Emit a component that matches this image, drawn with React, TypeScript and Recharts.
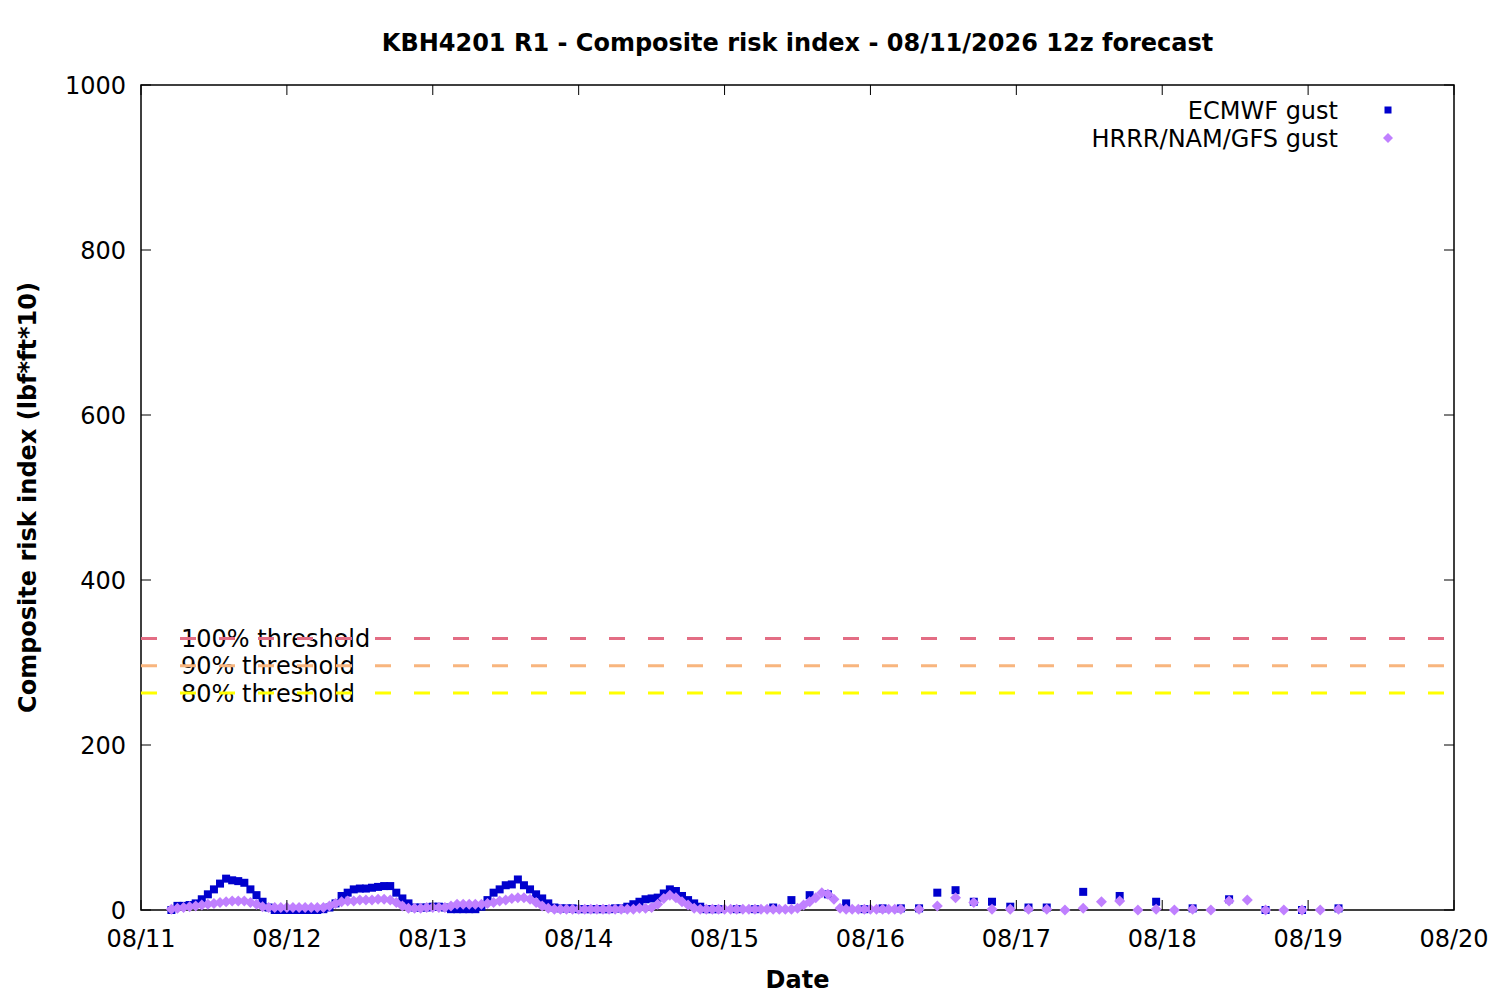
import React from 'react'
import { ScatterChart, Scatter, XAxis, YAxis, ReferenceLine, ReferenceArea } from 'recharts'

// hours counted from 08/11 00:00
const dayLabels = ['08/11', '08/12', '08/13', '08/14', '08/15', '08/16', '08/17', '08/18', '08/19', '08/20']
const dayTicks = [0, 24, 48, 72, 96, 120, 144, 168, 192, 216]
const yTicks = [0, 200, 400, 600, 800, 1000]

// ECMWF gust: hourly 08/11 05 -> 08/14 23, 3-hourly 08/15 02 -> 08/17 05, 6-hourly 08/17 11 -> 08/19 05
const ecmwfHourlyStart = 5
const ecmwfHourly = [
  0, 5, 5, 6, 8, 13, 19, 25, 32, 38, 36, 35, 33, 25, 18, 10, 3, 0, 0,
  0, 0, 0, 0, 0, 0, 1, 3, 8, 17, 21, 25, 26, 26, 27, 28, 29, 29, 21, 14, 8, 3, 3, 3,
  4, 4, 3, 1, 1, 1, 1, 1, 4, 12, 21, 25, 30, 31, 37, 30, 25, 19, 14, 8, 3, 2, 2, 2,
  1, 1, 1, 1, 1, 1, 2, 2, 4, 7, 10, 13, 14, 15, 20, 25, 23, 17, 12, 8, 4, 1, 1, 1,
]
const ecmwf3hStart = 98
const ecmwf3h = [1, 1, 3, 12, 18, 19, 8, 1, 2, 2, 2, 21, 24, 10, 10, 4, 3, 3]
const ecmwf6hStart = 155
const ecmwf6h = [22, 17, 10, 2, 13, 0, 0, 2]

// HRRR/NAM/GFS gust: hourly 08/11 05 -> 08/16 05, 3-hourly 08/16 08 -> 08/19 05
const hrrrHourlyStart = 5
const hrrrHourly = [
  1, 2, 3, 4, 5, 6, 7, 8, 9, 10, 11, 11, 11, 9, 7, 4, 3, 3, 3,
  3, 3, 3, 3, 3, 3, 3, 5, 8, 10, 11, 11, 12, 12, 12, 13, 13, 12, 9, 5, 2, 2, 2, 3,
  3, 3, 3, 5, 7, 7, 7, 7, 7, 8, 9, 11, 12, 14, 15, 15, 13, 9, 5, 2, 1, 1, 1, 1,
  1, 1, 1, 1, 1, 1, 1, 1, 1, 1, 2, 2, 3, 7, 14, 18, 15, 10, 6, 2, 1, 1, 1, 1,
  1, 1, 1, 1, 1, 1, 1, 1, 1, 1, 1, 1, 2, 6, 10, 15, 21, 19, 13, 2, 1, 1, 1, 1,
  1, 1, 1, 1, 1, 1,
]
const hrrr3hStart = 128
const hrrr3h = [1, 5, 15, 9, 1, 1, 1, 1, 0, 2, 10, 11, 0, 1, 0, 1, 0, 11, 12, 0, 0, 0, 0, 1]

const thresholds = [
  { name: '100% threshold', value: 329, color: '#e36d84' },
  { name: '90% threshold', value: 296, color: '#f8b57e' },
  { name: '80% threshold', value: 263, color: '#ffff00' },
]

const series = (start: number, step: number, vals: number[]) => vals.map((v, i) => ({ t: start + i * step, v }))

const ecmwfData = [
  ...series(ecmwfHourlyStart, 1, ecmwfHourly),
  ...series(ecmwf3hStart, 3, ecmwf3h),
  ...series(ecmwf6hStart, 6, ecmwf6h),
]
const hrrrData = [...series(hrrrHourlyStart, 1, hrrrHourly), ...series(hrrr3hStart, 3, hrrr3h)]

const FONT = '"DejaVu Sans", sans-serif'
const FS = 24
const BLUE = '#0000cd'
const PURPLE = '#c080ff'
const W = 1490
const H = 990
const PLOT_TOP = 77
const PLOT_LEFT = 133
const PLOT_RIGHT = 1446
const PLOT_BOTTOM = 902

const Square = (p: any) => <rect x={p.cx - 4} y={p.cy - 4} width={8} height={8} fill={BLUE} />
const Diamond = (p: any) => (
  <polygon points={`${p.cx},${p.cy - 5.5} ${p.cx + 5.5},${p.cy} ${p.cx},${p.cy + 5.5} ${p.cx - 5.5},${p.cy}`} fill={PURPLE} />
)

const XTick = (p: any) => {
  const i = dayTicks.indexOf(p.payload.value)
  return (
    <g>
      <line x1={p.x} y1={p.y} x2={p.x} y2={p.y - 10} stroke="#000" />
      <line x1={p.x} y1={PLOT_TOP} x2={p.x} y2={PLOT_TOP + 10} stroke="#000" />
      <text x={p.x} y={p.y + 37} textAnchor="middle" fontSize={FS} fontFamily={FONT} fill="#000">
        {dayLabels[i]}
      </text>
    </g>
  )
}

const YTick = (p: any) => (
  <g>
    <line x1={p.x} y1={p.y} x2={p.x + 10} y2={p.y} stroke="#000" />
    <line x1={PLOT_RIGHT - 10} y1={p.y} x2={PLOT_RIGHT} y2={p.y} stroke="#000" />
    <text x={p.x - 15} y={p.y} dy="0.36em" textAnchor="end" fontSize={FS} fontFamily={FONT} fill="#000">
      {p.payload.value}
    </text>
  </g>
)

export default function App() {
  return (
    <div style={{ position: 'relative', width: W, height: H }}>
      <ScatterChart width={W} height={H} margin={{ top: PLOT_TOP, right: W - PLOT_RIGHT, left: 0, bottom: 0 }}>
        <XAxis
          dataKey="t"
          type="number"
          domain={[0, 216]}
          ticks={dayTicks}
          height={H - PLOT_BOTTOM}
          tickLine={false}
          axisLine={false}
          tickSize={0}
          tickMargin={0}
          tick={<XTick />}
          interval={0}
        />
        <YAxis
          dataKey="v"
          type="number"
          domain={[0, 1000]}
          ticks={yTicks}
          width={PLOT_LEFT}
          tickLine={false}
          axisLine={false}
          tickSize={0}
          tickMargin={0}
          tick={<YTick />}
          interval={0}
        />
        {thresholds.map(th => (
          <ReferenceLine
            key={th.name + '-label'}
            y={th.value}
            stroke="none"
            label={(lp: any) => (
              <text x={lp.viewBox.x + 40} y={lp.viewBox.y} dy="0.36em" fontSize={FS} fontFamily={FONT} fill="#000">
                {th.name}
              </text>
            )}
          />
        ))}
        {thresholds.map(th => (
          <ReferenceLine key={th.name} y={th.value} stroke={th.color} strokeWidth={3} strokeDasharray="16 23" />
        ))}
        <ReferenceArea x1={0} x2={216} y1={0} y2={1000} fill="none" stroke="#000" strokeWidth={1.5} fillOpacity={0} />
        <Scatter name="ECMWF gust" data={ecmwfData} shape={Square} isAnimationActive={false} />
        <Scatter name="HRRR/NAM/GFS gust" data={hrrrData} shape={Diamond} isAnimationActive={false} />
      </ScatterChart>
      <svg width={W} height={H} style={{ position: 'absolute', left: 0, top: 0, pointerEvents: 'none' }}>
        <text x={(PLOT_LEFT + PLOT_RIGHT) / 2} y={43} textAnchor="middle" fontSize={FS} fontWeight="bold" fontFamily={FONT}>
          KBH4201 R1 - Composite risk index - 08/11/2026 12z forecast
        </text>
        <text x={(PLOT_LEFT + PLOT_RIGHT) / 2} y={980} textAnchor="middle" fontSize={FS} fontWeight="bold" fontFamily={FONT}>
          Date
        </text>
        <text
          transform={`translate(19, ${(PLOT_TOP + PLOT_BOTTOM) / 2}) rotate(-90)`}
          textAnchor="middle"
          dy="0.36em"
          fontSize={FS}
          fontWeight="bold"
          fontFamily={FONT}
        >
          Composite risk index (lbf*ft*10)
        </text>
        <text x={1330} y={102} dy="0.36em" textAnchor="end" fontSize={FS} fontFamily={FONT}>ECMWF gust</text>
        <rect x={1376.5} y={98.5} width={7} height={7} fill={BLUE} />
        <text x={1330} y={130} dy="0.36em" textAnchor="end" fontSize={FS} fontFamily={FONT}>HRRR/NAM/GFS gust</text>
        <polygon points="1380,125 1385,130 1380,135 1375,130" fill={PURPLE} />
      </svg>
    </div>
  )
}
